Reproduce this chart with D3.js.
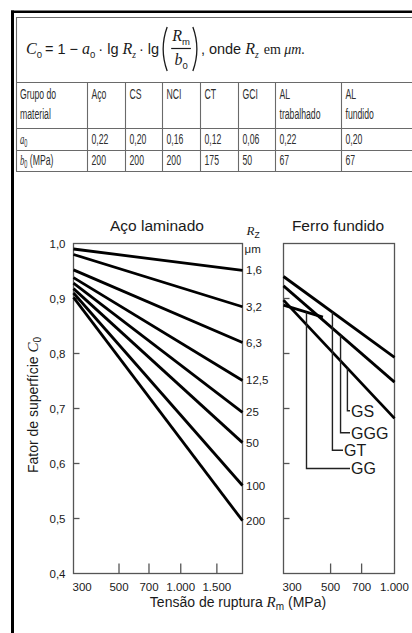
<!DOCTYPE html>
<html>
<head>
<meta charset="utf-8">
<script src="https://cdn.jsdelivr.net/npm/d3@7"></script>
<style>
  body { margin: 0; background: #fff; }
  svg { display: block; }
  text { font-family: "Liberation Sans", Arial, sans-serif; fill: #1a1a1a; }
</style>
</head>
<body>
<svg id="chart" width="412" height="633"></svg>
<script>
// ---- table data ----
const materials = ["Aço", "CS", "NCI", "CT", "GCI", "AL|trabalhado", "AL|fundido"];
const a0Values = ["0,22", "0,20", "0,16", "0,12", "0,06", "0,22", "0,20"];
const b0Values = ["200", "200", "200", "175", "50", "67", "67"];

// ---- rolled steel: surface factor C0 at 300 MPa and at 2000 MPa, per roughness Rz ----
const rzLabels = ["1,6", "3,2", "6,3", "12,5", "25", "50", "100", "200"];
const rolledC0At300 = [0.990, 0.980, 0.952, 0.938, 0.928, 0.918, 0.910, 0.902];
const rolledC0At2000 = [0.951, 0.885, 0.820, 0.751, 0.693, 0.638, 0.560, 0.496];

// ---- cast iron lines ----
const castNames = ["GS", "GGG", "GT", "GG"];
const castRmStart = [300, 300, 300, 300];
const castRmEnd = [1000, 1000, 1000, 460];
const castC0Start = [0.897, 0.923, 0.940, 0.888];
const castC0End = [0.682, 0.748, 0.793, 0.866];
const castLeaderRm = [600, 557, 510, 385];
const castLabelC0 = [0.696, 0.656, 0.624, 0.591];

// ---- axes ----
const yTickValues = [1.0, 0.9, 0.8, 0.7, 0.6, 0.5, 0.4];
const rolledXTicks = [300, 500, 700, 1000, 1500];
const castXTicks = [300, 500, 700, 1000];

const ptBR = d3.formatLocale({ decimal: ",", thousands: ".", grouping: [3], currency: ["R$", ""] });
const fmtY = ptBR.format(".1f");
const fmtX = ptBR.format(",");

const svg = d3.select("#chart");
svg.append("rect").attr("width", 412).attr("height", 633).attr("fill", "#fff");

const SANS = "'Liberation Sans', Arial, sans-serif";
const SERIF = "'Liberation Serif', 'Times New Roman', serif";
const NB = "\u00a0";

// ---------------- outer frame ----------------
svg.append("line").attr("x1", 12.5).attr("x2", 12.5).attr("y1", 10.5).attr("y2", 633)
  .attr("stroke", "#000").attr("stroke-width", 3);
svg.append("line").attr("x1", 11).attr("x2", 412).attr("y1", 11.8).attr("y2", 11.8)
  .attr("stroke", "#000").attr("stroke-width", 2.4);

// ---------------- table ----------------
const T = svg.append("g");
const colX = [16.5, 87.5, 125.5, 162.5, 200.5, 238.5, 275.5, 341.5];
const rowY = [17.5, 82.5, 128.5, 150.5, 171.5];
const gridColor = "#6a6a6a";
T.append("line").attr("x1", 16.5).attr("x2", 16.5).attr("y1", 17).attr("y2", 171.5)
  .attr("stroke", gridColor).attr("stroke-width", 1.1);
rowY.forEach(yy => T.append("line").attr("x1", 16).attr("x2", 412).attr("y1", yy).attr("y2", yy)
  .attr("stroke", gridColor).attr("stroke-width", 1.1));
colX.slice(1).forEach(xx => T.append("line").attr("x1", xx).attr("x2", xx).attr("y1", rowY[1]).attr("y2", rowY[4])
  .attr("stroke", gridColor).attr("stroke-width", 1.1));

// condensed table text
function cell(x, y, parts) {
  const t = T.append("text").attr("transform", `translate(${x},${y}) scale(0.56,1)`)
    .style("font-size", "15.5px").style("fill", "#2e2e2e");
  parts.forEach(p => {
    const s = t.append("tspan").text(p.t);
    if (p.it) s.style("font-style", "italic").style("font-family", SERIF);
    if (p.sub) s.attr("dy", 3).style("font-size", "10px");
    if (p.back) s.attr("dy", -3);
  });
  return t;
}
cell(20, 99, [{ t: "Grupo do" }]);
cell(20, 119, [{ t: "material" }]);
cell(20, 144, [{ t: "a", it: true }, { t: "0", sub: true }]);
cell(20, 165, [{ t: "b", it: true }, { t: "0", sub: true }, { t: NB + "(MPa)", back: true }]);
materials.forEach((m, i) => {
  const lines = m.split("|");
  lines.forEach((ln, j) => cell(colX[i + 1] + 4, 99 + j * 20, [{ t: ln }]));
  cell(colX[i + 1] + 4, 144, [{ t: a0Values[i] }]);
  cell(colX[i + 1] + 4, 165, [{ t: b0Values[i] }]);
});

// ---------------- formula ----------------
const F = svg.append("g");
let fx = 26;
const baseY = 54;
function piece(txt, o = {}) {
  const t = F.append("text").attr("x", fx).attr("y", o.y || baseY).text(txt)
    .style("font-family", o.serif ? SERIF : SANS)
    .style("font-style", o.it ? "italic" : "normal")
    .style("font-size", (o.size || 14.5) + "px")
    .style("fill", "#1a1a1a");
  const w = t.node().getComputedTextLength();
  fx += w + (o.gap || 0);
  return t;
}
piece("C", { it: true, serif: true, size: 16 });
piece("0", { size: 9.5, y: baseY + 4, gap: 3 });
piece("=" + NB + "1" + NB + "−" + NB, {});
piece("a", { it: true, serif: true, size: 16 });
piece("0", { size: 9.5, y: baseY + 4, gap: 3 });
piece("·" + NB + "lg" + NB, {});
piece("R", { it: true, serif: true, size: 16 });
piece("z", { it: true, serif: true, size: 9.5, y: baseY + 4, gap: 3 });
piece("·" + NB + "lg", { gap: 2 });
// large parentheses
function paren(x0, left) {
  const d = left
    ? `M${x0 + 6},27 Q${x0 - 2},49 ${x0 + 6},71`
    : `M${x0},27 Q${x0 + 8},49 ${x0},71`;
  F.append("path").attr("d", d).attr("fill", "none").attr("stroke", "#1a1a1a").attr("stroke-width", 1.3);
}
paren(fx, true);
fx += 10;
const fracX = fx;
const num = F.append("text").attr("y", 41).style("font-size", "14.5px").style("fill", "#1a1a1a");
num.append("tspan").text("R").style("font-family", SERIF).style("font-style", "italic").style("font-size", "16px");
num.append("tspan").text("m").attr("dy", 4).style("font-size", "9.5px");
const den = F.append("text").attr("y", 65).style("font-size", "14.5px").style("fill", "#1a1a1a");
den.append("tspan").text("b").style("font-family", SERIF).style("font-style", "italic").style("font-size", "16px");
den.append("tspan").text("0").attr("dy", 4).style("font-size", "9.5px");
const fw = Math.max(num.node().getComputedTextLength(), den.node().getComputedTextLength()) + 2;
num.attr("x", fracX + (fw - num.node().getComputedTextLength()) / 2);
den.attr("x", fracX + (fw - den.node().getComputedTextLength()) / 2);
F.append("line").attr("x1", fracX).attr("x2", fracX + fw).attr("y1", 48.5).attr("y2", 48.5)
  .attr("stroke", "#1a1a1a").attr("stroke-width", 1.2);
fx = fracX + fw + 2;
paren(fx, false);
fx += 8;
piece("," + NB + "onde" + NB, {});
piece("R", { it: true, serif: true, size: 16 });
piece("z", { it: true, serif: true, size: 9.5, y: baseY + 4, gap: 5 });
piece("em" + NB, { serif: true, size: 14 });
piece("μm.", { serif: true, it: true, size: 14 });

// ---------------- charts ----------------
const y = d3.scaleLinear().domain([0.4, 1.0]).range([573.5, 243.5]);
const xRolled = d3.scaleLog().domain([300, 2000]).range([73.5, 242.5]);
const xCast = d3.scaleLog().domain([300, 1000]).range([283.5, 394.5]);
const frameColor = "#555";

function panel(x, ticks, title, showYLabels) {
  const g = svg.append("g");
  const [x0, x1] = x.range();
  const [yb, yt] = y.range();
  g.append("rect").attr("x", x0).attr("y", yt).attr("width", x1 - x0).attr("height", yb - yt)
    .attr("fill", "none").attr("stroke", frameColor).attr("stroke-width", 1.3);
  // inward y ticks
  yTickValues.filter(v => v > 0.4 && v < 1.0).forEach(v => {
    g.append("line").attr("x1", x0).attr("x2", x0 + 6).attr("y1", y(v)).attr("y2", y(v))
      .attr("stroke", frameColor).attr("stroke-width", 1.3);
  });
  if (showYLabels) {
    yTickValues.forEach(v => {
      g.append("text").attr("x", x0 - 8).attr("y", y(v) + 4).attr("text-anchor", "end")
        .style("font-size", "11.5px").text(fmtY(v));
    });
  }
  // inward x ticks and labels
  const [dMin, dMax] = x.domain();
  ticks.forEach((v, i) => {
    if (v > dMin && v < dMax) {
      g.append("line").attr("x1", x(v)).attr("x2", x(v)).attr("y1", yb).attr("y2", yb - 10)
        .attr("stroke", frameColor).attr("stroke-width", 1.3);
    }
    g.append("text").attr("x", i === 0 ? x0 - 1 : x(v)).attr("y", 591)
      .attr("text-anchor", i === 0 ? "start" : "middle")
      .style("font-size", "11.5px").text(fmtX(v));
  });
  g.append("text").attr("x", (x0 + x1) / 2 - 1).attr("y", 231).attr("text-anchor", "middle")
    .style("font-size", "15.5px").text(title);
  return g;
}

const gR = panel(xRolled, rolledXTicks, "Aço laminado", true);
const gC = panel(xCast, castXTicks, "Ferro fundido", false);

const line = d3.line();

// rolled steel lines
rzLabels.forEach((lab, i) => {
  const pts = [[xRolled(300), y(rolledC0At300[i])], [xRolled(2000), y(rolledC0At2000[i])]];
  gR.append("path").attr("d", line(pts)).attr("fill", "none").attr("stroke", "#000")
    .attr("stroke-width", 2.8).attr("stroke-linecap", "butt");
  gR.append("text").attr("x", xRolled(2000) + 3.5).attr("y", y(rolledC0At2000[i]) + 4)
    .style("font-size", "11.5px").text(lab);
});
const rz = gR.append("text").attr("x", xRolled(2000) + 4).attr("y", 235).style("font-size", "12px");
rz.append("tspan").text("R").style("font-family", SERIF).style("font-style", "italic").style("font-size", "13px");
rz.append("tspan").text("Z").attr("dy", 3).style("font-size", "8.5px");
gR.append("text").attr("x", xRolled(2000) + 2).attr("y", 253).style("font-size", "11.5px").text("μm");

// cast iron lines with leaders
castNames.forEach((name, i) => {
  const pts = [[xCast(castRmStart[i]), y(castC0Start[i])], [xCast(castRmEnd[i]), y(castC0End[i])]];
  gC.append("path").attr("d", line(pts)).attr("fill", "none").attr("stroke", "#000")
    .attr("stroke-width", 2.8);
  const lx = xCast(castLeaderRm[i]);
  const t = Math.log(castLeaderRm[i] / castRmStart[i]) / Math.log(castRmEnd[i] / castRmStart[i]);
  const ly = y(castC0Start[i] + t * (castC0End[i] - castC0Start[i]));
  const labY = y(castLabelC0[i]);
  const labX = name === "GT" ? 344 : 351;
  gC.append("path").attr("d", `M${lx},${ly} V${labY} H${labX - 1}`)
    .attr("fill", "none").attr("stroke", "#222").attr("stroke-width", 1.4);
  gC.append("text").attr("x", labX).attr("y", labY + 6).style("font-size", "16px").text(name);
});

// axis titles
const xt = svg.append("text").attr("x", 238).attr("y", 607).attr("text-anchor", "middle").style("font-size", "14px");
xt.append("tspan").text("Tensão de ruptura ");
xt.append("tspan").text("R").style("font-family", SERIF).style("font-style", "italic").style("font-size", "15px");
xt.append("tspan").text("m").attr("dy", 3).style("font-size", "10px");
xt.append("tspan").text(NB + "(MPa)").attr("dy", -3);

const yt = svg.append("text").attr("transform", "translate(38,405) rotate(-90)").attr("text-anchor", "middle")
  .style("font-size", "14px");
yt.append("tspan").text("Fator de superfície ");
yt.append("tspan").text("C").style("font-family", SERIF).style("font-style", "italic").style("font-size", "15px");
yt.append("tspan").text("0").attr("dy", 3).style("font-size", "10px");
</script>
</body>
</html>
